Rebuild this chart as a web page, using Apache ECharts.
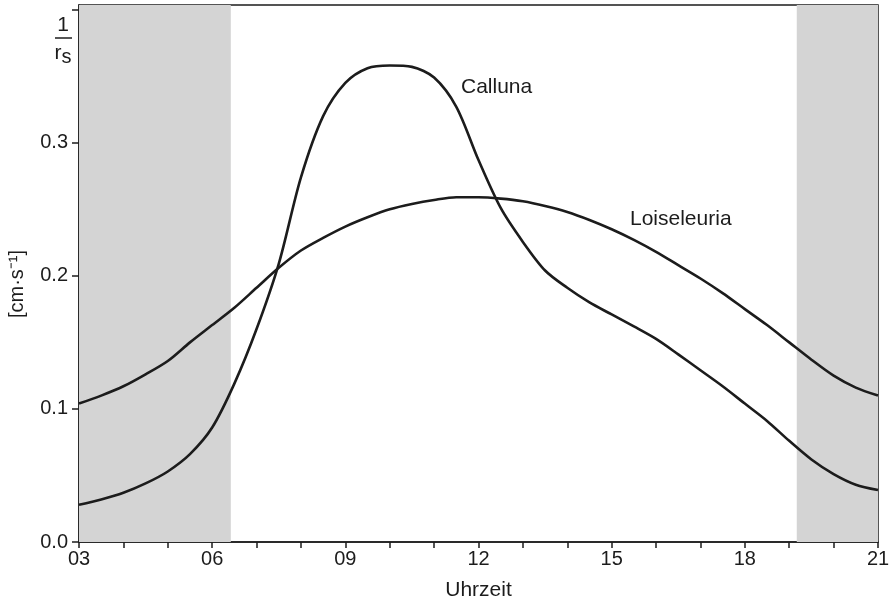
<!DOCTYPE html>
<html>
<head>
<meta charset="utf-8">
<script src="https://cdn.jsdelivr.net/npm/echarts@6/dist/echarts.min.js"></script>
<style>html,body{margin:0;padding:0;background:#fff}#c{width:894px;height:606px}</style>
</head>
<body>
<div id="c"></div>
<script>
// Hour of day (x, half-hour steps) and stomatal conductance 1/r_s [cm·s⁻¹] (y)
var hours = [3, 3.5, 4, 4.5, 5, 5.5, 6, 6.5, 7, 7.5, 8, 8.5, 9, 9.5, 10, 10.5, 11, 11.5, 12, 12.5,
             13, 13.5, 14, 14.5, 15, 15.5, 16, 16.5, 17, 17.5, 18, 18.5, 19, 19.5, 20, 20.5, 21];
var callunaValues = [0.028, 0.032, 0.037, 0.044, 0.053, 0.066, 0.086, 0.119, 0.160, 0.209, 0.274, 0.320, 0.345, 0.356, 0.358, 0.357, 0.349, 0.327, 0.287, 0.251,
                     0.2255, 0.204, 0.191, 0.180, 0.171, 0.162, 0.1526, 0.141, 0.129, 0.117, 0.104, 0.091, 0.076, 0.062, 0.051, 0.043, 0.039];
var loiseValues   = [0.104, 0.110, 0.117, 0.126, 0.136, 0.150, 0.163, 0.176, 0.191, 0.206, 0.219, 0.2285, 0.237, 0.244, 0.250, 0.254, 0.257, 0.259, 0.259, 0.258,
                     0.256, 0.2525, 0.248, 0.242, 0.235, 0.227, 0.218, 0.208, 0.198, 0.187, 0.175, 0.163, 0.150, 0.137, 0.125, 0.116, 0.110];
var darkPeriods   = [[3, 6.42], [19.17, 21]];
var xTicks        = [3, 6, 9, 12, 15, 18, 21];
var yTicks        = [0, 0.1, 0.2, 0.3];
var seriesNames   = ['Calluna', 'Loiseleuria'];

function zip(xs, ys) { return xs.map(function (x, i) { return [x, ys[i]]; }); }

var chart = echarts.init(document.getElementById('c'), null, {renderer: 'canvas'});
var ink = '#1c1c1c';
var font = 'Liberation Sans';

chart.setOption({
  animation: false,
  backgroundColor: '#ffffff',
  grid: {left: 79, right: 16, top: 5, bottom: 62, show: true, borderColor: ink, borderWidth: 1.5, backgroundColor: 'transparent'},
  xAxis: {
    type: 'value', min: xTicks[0], max: xTicks[xTicks.length - 1], interval: 3,
    name: 'Uhrzeit', nameLocation: 'middle', nameGap: 38,
    nameTextStyle: {color: ink, fontSize: 21, fontFamily: font},
    axisLine: {lineStyle: {color: ink, width: 1.5}},
    axisTick: {show: true, length: 6, lineStyle: {color: ink, width: 1.5}},
    minorTick: {show: true, splitNumber: 3, length: 6, lineStyle: {color: ink, width: 1.5}},
    splitLine: {show: false},
    axisLabel: {color: ink, fontSize: 20, fontFamily: font, margin: 7,
      formatter: function (v) { return (v < 10 ? '0' : '') + v; }}
  },
  yAxis: {
    type: 'value', min: 0, max: 0.4035, interval: 0.1,
    axisLine: {lineStyle: {color: ink, width: 1.5}},
    axisTick: {show: true, length: 7, lineStyle: {color: ink, width: 1.5}},
    splitLine: {show: false},
    axisLabel: {color: ink, fontSize: 20, fontFamily: font, margin: 11, showMaxLabel: false,
      formatter: function (v) {
        var r = Math.round(v * 10) / 10;
        return (yTicks.indexOf(r) >= 0 && Math.abs(v - r) < 1e-6) ? v.toFixed(1) : '';
      }}
  },
  series: [
    {
      name: seriesNames[0], type: 'line', data: zip(hours, callunaValues),
      smooth: 0.3, showSymbol: false, lineStyle: {color: ink, width: 2.6},
      markArea: {silent: true, itemStyle: {color: '#d4d4d4'},
        data: darkPeriods.map(function (p) { return [{xAxis: p[0]}, {xAxis: p[1]}]; })},
      z: 3
    },
    {
      name: seriesNames[1], type: 'line', data: zip(hours, loiseValues),
      smooth: 0.3, showSymbol: false, lineStyle: {color: ink, width: 2.6}, z: 3
    }
  ],
  graphic: [
    {type: 'text', left: 461, top: 77, style: {text: seriesNames[0], fill: ink, font: '21px "Liberation Sans"'}},
    {type: 'text', left: 630, top: 209, style: {text: seriesNames[1], fill: ink, font: '21px "Liberation Sans"'}},
    {type: 'text', x: 63, y: 25, style: {text: '1', fill: ink, font: '21px "Liberation Sans"', align: 'center', verticalAlign: 'middle'}},
    {type: 'line', shape: {x1: 55, y1: 38, x2: 72, y2: 38}, style: {stroke: ink, lineWidth: 1.5}},
    {type: 'text', x: 63, y: 53, style: {
      text: '{r|r}{s|s}', align: 'center', verticalAlign: 'middle',
      rich: {r: {fill: ink, font: '21px "Liberation Sans"'}, s: {fill: ink, font: '20px "Liberation Sans"', padding: [8, 0, 0, 0]}}
    }},
    {type: 'text', x: 17, y: 284, rotation: Math.PI / 2, style: {
      text: '[cm·s⁻¹]', fill: ink, font: '20px "Liberation Sans"', align: 'center', verticalAlign: 'middle'}}
  ]
});
</script>
</body>
</html>
